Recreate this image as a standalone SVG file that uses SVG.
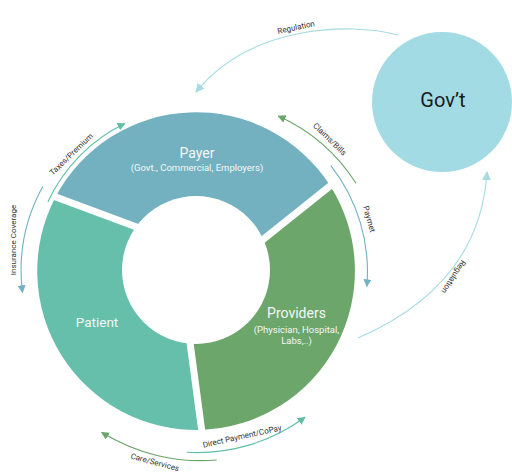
<svg xmlns="http://www.w3.org/2000/svg" width="512" height="475" viewBox="0 0 512 475">
<style>
.lbl{font-family:Roboto,"Liberation Sans",sans-serif;font-size:8px;fill:#333;text-anchor:middle}
.seg{font-family:Roboto,"Liberation Sans",sans-serif;fill:#f4f7f7;text-anchor:middle}
.arc{fill:none;stroke-width:1.1}
.gap{stroke:#fff;stroke-width:7;fill:none}
</style>
<defs>
<marker id="mT" viewBox="0 0 10 10" refX="9" refY="5" markerWidth="8" markerHeight="8" markerUnits="userSpaceOnUse" orient="auto"><path d="M0,0L10,5L0,10z" fill="#5fbfa5"/></marker>
<marker id="mB" viewBox="0 0 10 10" refX="9" refY="5" markerWidth="8" markerHeight="8" markerUnits="userSpaceOnUse" orient="auto"><path d="M0,0L10,5L0,10z" fill="#6fb2c4"/></marker>
<marker id="mG" viewBox="0 0 10 10" refX="9" refY="5" markerWidth="8" markerHeight="8" markerUnits="userSpaceOnUse" orient="auto"><path d="M0,0L10,5L0,10z" fill="#6aa56a"/></marker>
<marker id="mL" viewBox="0 0 10 10" refX="9" refY="5" markerWidth="9" markerHeight="9" markerUnits="userSpaceOnUse" orient="auto"><path d="M0,0L10,5L0,10z" fill="#a6dbe3"/></marker>
</defs>
<rect width="512" height="475" fill="#fff"/>
<g id="ring">
<g id="payer">
<path d="M160,236 L55.5,197 A159,159 0 0 1 330,185.5 L238,259 Z" fill="#73b1c1"/>
</g>
<g id="providers">
<path d="M238,259 L330,185.5 A159,159 0 0 1 201,429.9 L187,320 Z" fill="#6ca66b"/>
</g>
<g id="patient">
<path d="M187,320 L201,429.9 A159,159 0 0 1 55.5,197 L160,236 Z" fill="#65bfaa"/>
</g>
<path class="gap" d="M45,193 L150,232"/>
<path class="gap" d="M340,178 L250,250"/>
<path class="gap" d="M189,335 L203,440"/>
<circle cx="196" cy="270" r="74" fill="#fff"/>
<text class="seg" x="197" y="158" font-size="14">Payer</text>
<text class="seg" x="197" y="170.5" font-size="9.5">(Govt., Commercial, Employers)</text>
<text class="seg" x="97" y="327" font-size="13.5">Patient</text>
<text class="seg" x="296.5" y="318" font-size="14">Providers</text>
<text class="seg" x="296.5" y="333" font-size="9.5">(Physician, Hospital,</text>
<text class="seg" x="296.5" y="343.5" font-size="9.5">Labs,..)</text>
</g>
<g id="govt">
<circle cx="442" cy="102" r="70" fill="#a3dbe4"/>
<text x="443" y="107" font-family="Roboto,'Liberation Sans',sans-serif" font-size="20" fill="#1a1a1a" text-anchor="middle">Gov’t</text>
</g>
<g id="connectors">
<path class="arc" stroke="#a6dbe3" d="M398,35 C350,22 250,25 196,92" marker-end="url(#mL)"/>
<path class="arc" stroke="#5fbfa5" d="M47.8,201.9 A163.5,163.5 0 0 1 124.8,123.5" marker-end="url(#mT)"/>
<path class="arc" stroke="#6fb2c4" d="M42.9,186.2 A175,175 0 0 0 22.5,292.5" marker-end="url(#mB)"/>
<path class="arc" stroke="#6aa56a" d="M356,183.3 A180,180 0 0 0 278.3,116" marker-end="url(#mG)"/>
<path class="arc" stroke="#6fb2c4" d="M330.8,165.7 A171,171 0 0 1 366.8,286.5" marker-end="url(#mB)"/>
<path class="arc" stroke="#a6dbe3" d="M358,338 Q480,285 487,172" marker-end="url(#mL)"/>
<path class="arc" stroke="#6aa56a" d="M216.7,460 A188,188 0 0 1 101.7,432.3" marker-end="url(#mG)"/>
<path class="arc" stroke="#5fbfa5" d="M186.7,452.3 A182,182 0 0 0 305,417.3" marker-end="url(#mT)"/>
</g>
<g id="labels">
<text class="lbl" fill="#555" transform="translate(296,27) rotate(-12)" y="3">Regulation</text>
<text class="lbl" transform="translate(71,154) rotate(-44)" y="3">Taxes/Premium</text>
<text class="lbl" transform="translate(12.5,240) rotate(-90)" y="3">Insurance Coverage</text>
<text class="lbl" transform="translate(330,139) rotate(44)" y="3">Claims/Bills</text>
<text class="lbl" transform="translate(369.5,219) rotate(74)" y="3">Paymet</text>
<text class="lbl" transform="translate(454,277) rotate(123)" y="3">Regulation</text>
<text class="lbl" transform="translate(155,462) rotate(15)" y="3">Care/Services</text>
<text class="lbl" transform="translate(242,436) rotate(-12.5)" y="3">Direct Payment/CoPay</text>
</g>
</svg>
